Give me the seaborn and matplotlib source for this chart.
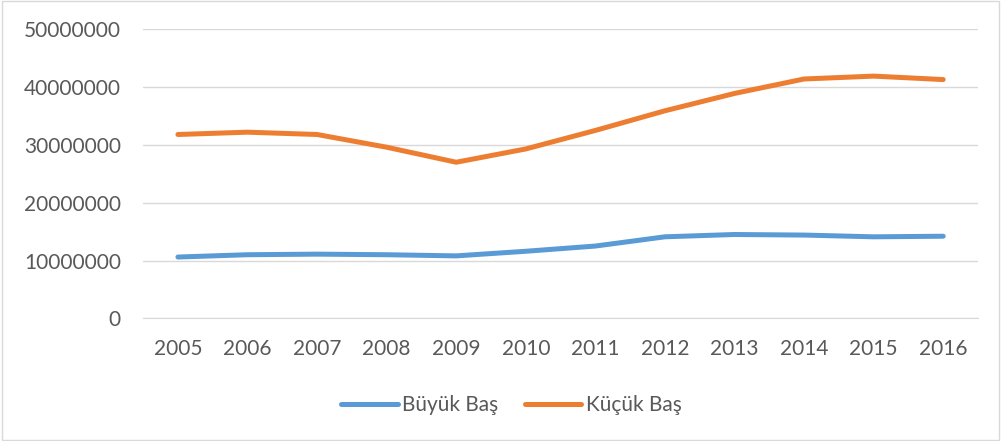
import seaborn as sns
import matplotlib.pyplot as plt
import pandas as pd
from matplotlib.patches import Rectangle

# veriler (grafikten okunan yaklaşık değerler)
years = ["2005", "2006", "2007", "2008", "2009", "2010",
         "2011", "2012", "2013", "2014", "2015", "2016"]
buyuk_bas = [10.6e6, 11.0e6, 11.1e6, 11.0e6, 10.8e6, 11.6e6,
             12.5e6, 14.1e6, 14.5e6, 14.4e6, 14.1e6, 14.2e6]
kucuk_bas = [31.8e6, 32.2e6, 31.8e6, 29.6e6, 27.0e6, 29.3e6,
             32.5e6, 35.9e6, 38.9e6, 41.4e6, 41.9e6, 41.3e6]
series_names = ["Büyük Baş", "Küçük Baş"]
colors = ["#5B9BD5", "#ED7D31"]

df = pd.DataFrame({
    "Yıl": years * 2,
    "Değer": buyuk_bas + kucuk_bas,
    "Seri": [series_names[0]] * len(years) + [series_names[1]] * len(years),
})

sns.set_style("white")
plt.rcParams["font.family"] = ["Lato", "DejaVu Sans"]

fig = plt.figure(figsize=(10.01, 4.41), dpi=100)
ax = fig.add_axes([0.143, 0.2782, 0.834, 0.6554])

sns.lineplot(data=df, x="Yıl", y="Değer", hue="Seri", palette=colors,
             linewidth=3.6, sort=False, ax=ax)
for line in ax.get_lines():
    line.set_solid_capstyle("round")
    line.set_solid_joinstyle("round")

ax.set_xlim(-0.5, len(years) - 0.5)
ax.set_ylim(0, 50000000)
ax.set_yticks(range(0, 50000001, 10000000))
ax.set_yticklabels([str(v) for v in range(0, 50000001, 10000000)])
ax.yaxis.grid(True, color="#D9D9D9", linewidth=1)
ax.set_axisbelow(True)
for side in ["left", "right", "top"]:
    ax.spines[side].set_visible(False)
ax.spines["bottom"].set_color("#D9D9D9")
ax.tick_params(axis="both", length=0, labelsize=15, labelcolor="#595959")
ax.tick_params(axis="x", pad=15)
ax.tick_params(axis="y", pad=16)
ax.set_xlabel("")
ax.set_ylabel("")

# lejant
handles, labels = ax.get_legend_handles_labels()
ax.legend_.remove()
leg = fig.legend(handles, labels, loc="center", bbox_to_anchor=(0.511, 0.082),
                 ncol=2, frameon=False, fontsize=15, handlelength=2.7,
                 handletextpad=0.2, columnspacing=1.3)
for t in leg.get_texts():
    t.set_color("#595959")
for h in leg.get_lines():
    h.set_linewidth(3.6)
    h.set_solid_capstyle("round")

# dış çerçeve
fig.patches.append(Rectangle((0.002, 0.002), 0.996, 0.995, transform=fig.transFigure,
                             fill=False, edgecolor="#D9D9D9", linewidth=1))

fig.savefig("out.png", dpi=100)
